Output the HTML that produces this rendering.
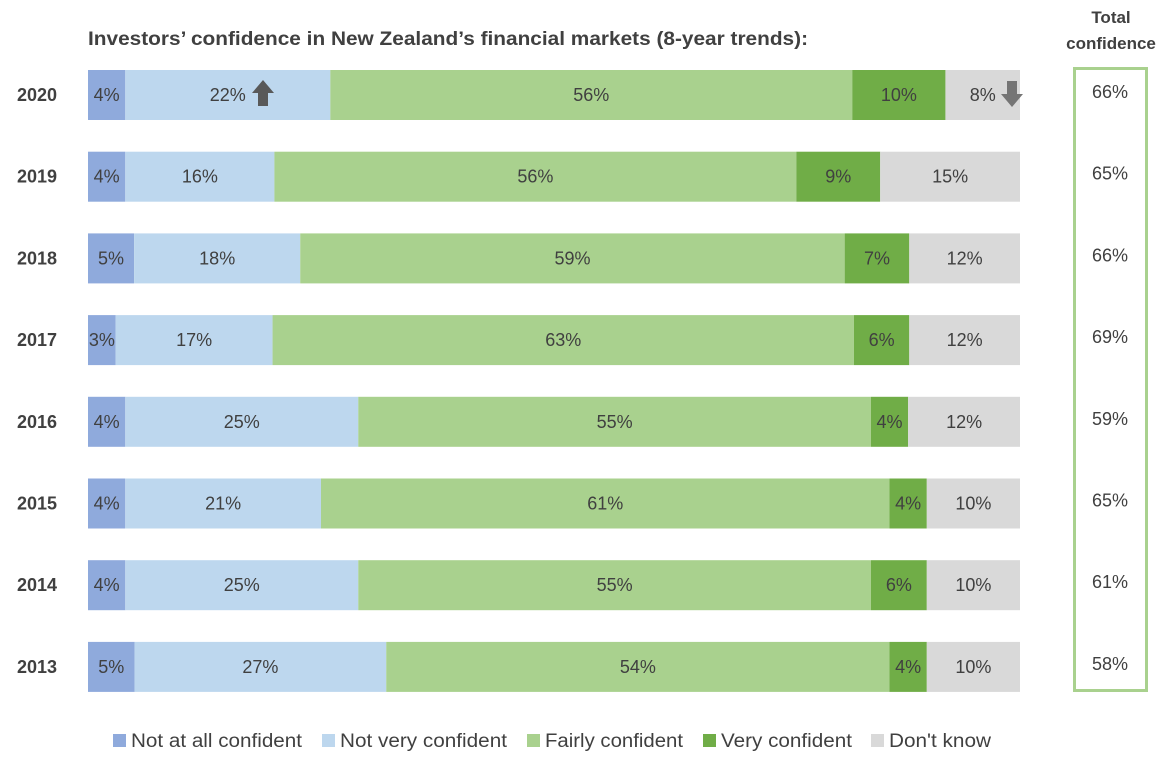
<!DOCTYPE html>
<html><head><meta charset="utf-8"><style>
body{margin:0;background:#fff;font-family:"Liberation Sans",sans-serif;}
svg text{font-family:"Liberation Sans",sans-serif;}
</style></head><body>
<svg id="c" width="1171" height="767" xmlns="http://www.w3.org/2000/svg">
<text x="88" y="45" font-size="19" font-weight="bold" fill="#404040" textLength="720" lengthAdjust="spacingAndGlyphs">Investors’ confidence in New Zealand’s financial markets (8-year trends):</text>
<text x="1111" y="23" font-size="17" font-weight="bold" fill="#404040" text-anchor="middle">Total</text>
<text x="1111" y="49" font-size="17" font-weight="bold" fill="#404040" text-anchor="middle">confidence</text>
<rect x="1074.5" y="68.5" width="72" height="622" fill="none" stroke="#a9d18e" stroke-width="3"/>
<g id="bars"></g>
<g id="legend"></g>
</svg>
<script>
const years=["2020","2019","2018","2017","2016","2015","2014","2013"];
const notAtAll=[4,4,5,3,4,4,4,5];
const notVery=[22,16,18,17,25,21,25,27];
const fairly=[56,56,59,63,55,61,55,54];
const very=[10,9,7,6,4,4,6,4];
const dontKnow=[8,15,12,12,12,10,10,10];
const totals=["66%","65%","66%","69%","59%","65%","61%","58%"];
const seriesNames=["Not at all confident","Not very confident","Fairly confident","Very confident","Don't know"];
const colors=["#8faadc","#bdd7ee","#a9d18e","#70ad47","#d9d9d9"];
const NS="http://www.w3.org/2000/svg";
const x0=88,x1=1020,top0=70,pitch=81.7,bh=50;
const xs=v=>v*(x1-x0)/100;
const yRow=i=>top0+i*pitch;
const g=document.getElementById('bars');
function mk(t,a,p){const e=document.createElementNS(NS,t);for(const k in a)e.setAttribute(k,a[k]);(p||g).appendChild(e);return e;}
const all=[notAtAll,notVery,fairly,very,dontKnow];
years.forEach((yr,i)=>{
  const y=yRow(i);
  const lab=mk('text',{x:37,y:y+bh/2+6,'font-size':18,'font-weight':'bold',fill:'#404040','text-anchor':'middle'});
  lab.textContent=yr;
  
  
  const sum=all.reduce((s,a)=>s+a[i],0);
  let cx=x0;
  all.forEach((arr,s)=>{
    const w=xs(arr[i]*100/sum);
    const r=mk('rect',{x:cx,y:y,width:w,height:bh,fill:colors[s]});
    
    
    const t=mk('text',{x:cx+w/2,y:y+bh/2+6,'font-size':18,fill:'#404040','text-anchor':'middle'});
    t.textContent=arr[i]+'%';
    
    
    cx+=w;
  });
  const tt=mk('text',{x:1110,y:y+bh/2+3,'font-size':18,fill:'#404040','text-anchor':'middle'});
  tt.textContent=totals[i];
  
  
});
const up=mk('path',{d:'M263 80 L274 93 L268 93 L268 106 L258 106 L258 93 L252 93 Z',fill:'#595959'});


const dn=mk('path',{d:'M1012 107 L1023 94 L1017 94 L1017 81 L1007 81 L1007 94 L1001 94 Z',fill:'#757575'});


const lg=document.getElementById('legend');
const lx=[113,322,527,703,871];
const lw=[171,167,138,131,102];
seriesNames.forEach((n,s)=>{
  const r=mk('rect',{x:lx[s],y:734,width:13,height:13,fill:colors[s]},lg);
  
  
  const t=mk('text',{x:lx[s]+18,y:747,'font-size':19,fill:'#404040',textLength:lw[s],lengthAdjust:'spacingAndGlyphs'},lg);
  t.textContent=n;
  
  
});
</script>
</body></html>
